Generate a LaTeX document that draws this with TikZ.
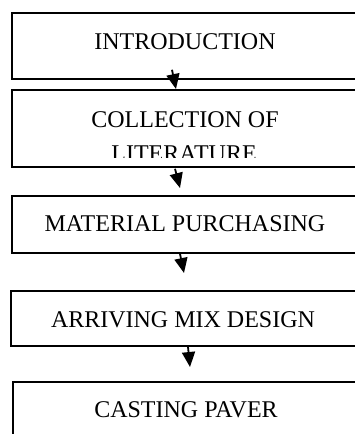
\documentclass[tikz,border=0pt]{standalone}
\usepackage{fontspec}
\setmainfont{Liberation Serif}
\usetikzlibrary{arrows.meta,calc}
\begin{document}
\begin{tikzpicture}[x=1pt,y=1pt,
  stepbox/.style={draw=black, line width=1.8pt, anchor=north west, inner sep=0pt, minimum width=351pt},
  lbl/.style={anchor=base, inner sep=0pt, font=\fontsize{24}{28}\selectfont},
  arr/.style={line width=1.8pt, -{Triangle[length=15pt,width=13pt]}}]
\useasboundingbox (0,0) rectangle (354,-434);
\fill[white] (0,0) rectangle (354,-434);
\node[stepbox, minimum height=66pt] (b1) at (11,-12) {};
\node[stepbox, minimum height=77pt] (b2) at (11,-89) {};
\node[stepbox, minimum height=57pt] (b3) at (11,-195) {};
\node[stepbox, minimum height=55pt] (b4) at (10,-290) {};
\node[stepbox, minimum height=65pt] (b5) at (12,-381) {};
\node[lbl] (t1) at (185,-49) {INTRODUCTION};
\node[lbl] (t2) at (185,-127) {COLLECTION OF};
\begin{scope}
\clip (0,-100) rectangle (354,-157);
\node[lbl] (t2b) at (184,-161) {LITERATURE};
\end{scope}
\node[lbl] (t3) at (185,-231) {MATERIAL PURCHASING};
\node[lbl] (t4) at (183,-327) {ARRIVING MIX DESIGN};
\node[lbl] (t5) at (186,-417) {CASTING PAVER};
\draw[arr] ($(b1.south west)+(161,10)$) -- ($(b2.north west)+(165,0)$);
\draw[arr] ($(b2.south west)+(164,-1)$) -- ($(b3.north west)+(169,7)$);
\draw[arr] ($(b3.south west)+(169,0)$) -- ($(b4.north west)+(174,17)$);
\draw[arr] ($(b4.south west)+(178,0)$) -- ($(b5.north west)+(178,14)$);
\end{tikzpicture}
\end{document}
